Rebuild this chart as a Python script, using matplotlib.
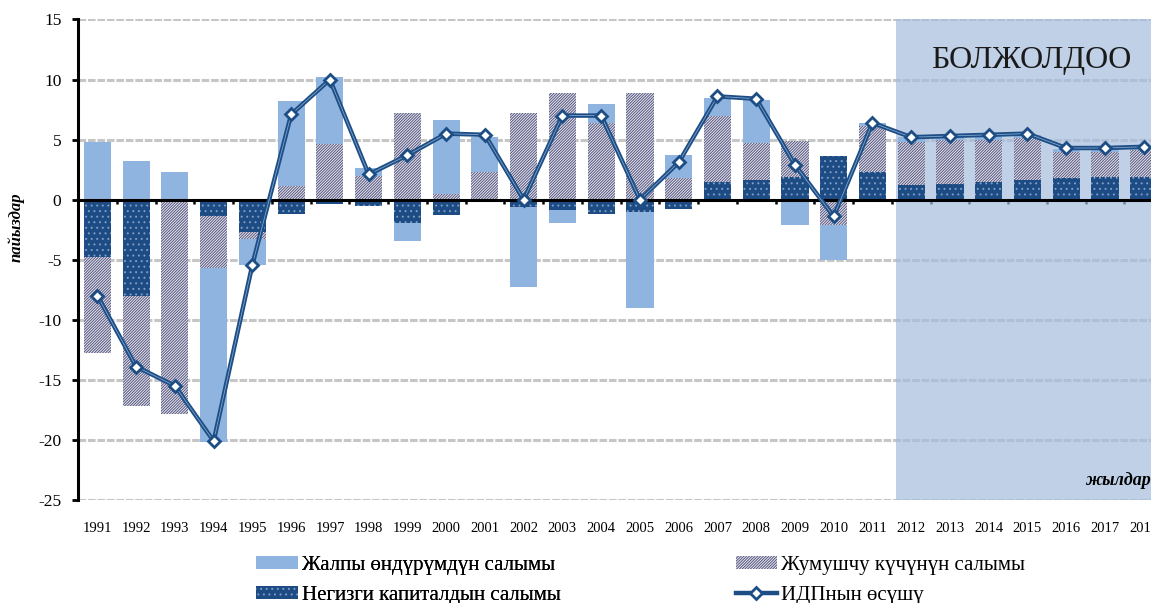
import matplotlib.pyplot as plt
import numpy as np
from matplotlib.patches import Patch
from matplotlib.lines import Line2D

plt.rcParams["font.family"] = ["Liberation Serif", "DejaVu Serif"]
plt.rcParams["axes.unicode_minus"] = False
plt.rcParams["hatch.linewidth"] = 0.7

# data (percentage points), stacked in this order: capital, labour, TFP
years = [str(y) for y in range(1991, 2019)]
capital = [-4.8, -8.0, -0.1, -1.4, -2.7, -1.2, -0.4, -0.5, -1.9, -1.3,
           -0.1, -0.6, -0.9, -1.2, -1.0, -0.8, 1.5, 1.6, 1.9, 3.6,
           2.3, 1.2, 1.3, 1.5, 1.6, 1.8, 1.9, 1.9]
labor = [-8.0, -9.2, -17.7, -4.3, -0.6, 1.1, 4.6, 2.0, 7.2, 0.5,
         2.3, 7.2, 8.9, 6.4, 8.9, 1.8, 5.5, 3.1, 3.0, -2.1,
         3.8, 3.6, 3.7, 3.5, 3.5, 2.2, 2.1, 2.2]
tfp = [4.8, 3.2, 2.3, -14.5, -2.1, 7.1, 5.6, 0.6, -1.5, 6.1,
       2.9, -6.7, -1.0, 1.6, -8.0, 1.9, 1.5, 3.6, -2.1, -2.9,
       0.3, 0.4, 0.3, 0.3, 0.3, 0.2, 0.2, 0.2]
gdp = [-8.0, -13.9, -15.5, -20.1, -5.4, 7.1, 10.0, 2.1, 3.7, 5.5,
       5.4, 0.0, 7.0, 7.0, 0.0, 3.1, 8.6, 8.4, 2.9, -1.4,
       6.4, 5.2, 5.3, 5.4, 5.5, 4.3, 4.3, 4.4]
forecast_start = "2012"

labels = ["Жалпы өндүрүмдүн салымы", "Жумушчу күчүнүн салымы",
          "Негизги капиталдын салымы", "ИДПнын өсүшү"]

c_tfp = "#8fb4df"
c_cap = "#1d4c84"
c_cap_dot = "#7d9cc6"
c_lab_face = "#e8e8f0"
c_lab_edge = "#55557f"
c_line = "#1c4d84"
lab_hatch = "/" * 12
cap_hatch = "..."

fig = plt.figure(figsize=(11.51, 6.03), dpi=100)
# plot area runs past the right edge of the picture, as in the original
ax = fig.add_axes([0.0678, 0.1708, 0.9427, 0.7969])

x = np.arange(len(years))
w = 0.7

# stack positives up and negatives down separately (like Excel)
pos = np.zeros(len(years))
neg = np.zeros(len(years))
styles = [
    (capital, dict(color=c_cap, edgecolor=c_cap_dot, hatch=cap_hatch, linewidth=0)),
    (labor, dict(color=c_lab_face, edgecolor=c_lab_edge, hatch=lab_hatch, linewidth=0)),
    (tfp, dict(color=c_tfp, linewidth=0)),
]
for vals, kw in styles:
    vals = np.array(vals)
    bottom = np.where(vals >= 0, pos, neg)
    ax.bar(x, vals, w, bottom=bottom, zorder=2, **kw)
    pos = pos + np.clip(vals, 0, None)
    neg = neg + np.clip(vals, None, 0)

# forecast shading
i0 = years.index(forecast_start)
ax.axvspan(i0 - 0.38, len(years) - 0.5, color="#a4bdde", alpha=0.7,
           zorder=1, linewidth=0)

# GDP growth line (double line look)
ax.plot(x, gdp, color=c_line, lw=3.2, zorder=5, solid_joinstyle="miter")
ax.plot(x, gdp, color="#7fa3cf", lw=0.6, zorder=5.5)
ax.plot(x, gdp, ls="none", marker="D", ms=6.5, mfc="white", mec=c_line,
        mew=2, zorder=6)

ax.set_xlim(-0.5, len(years) - 0.5)
ax.set_ylim(-25, 15)
ax.set_yticks(np.arange(-25, 16, 5))
ax.yaxis.grid(True, color="#c6c6c6", lw=2.2, ls=(0, (2.5, 0.6)))
ax.set_axisbelow(True)

for s in ["top", "right"]:
    ax.spines[s].set_visible(False)
ax.spines["left"].set_linewidth(2.2)
ax.spines["bottom"].set_position(("data", 0))
ax.spines["bottom"].set_linewidth(2.2)
ax.spines["bottom"].set_zorder(4)
ax.set_xticks(x)
ax.set_xticks(np.arange(-0.5, len(years), 1), minor=True)
ax.tick_params(axis="x", which="major", length=0, labelbottom=False)
ax.tick_params(axis="x", which="minor", length=3, width=1.8, direction="out")
ax.tick_params(axis="y", length=4, width=2, pad=8, labelsize=12.5)

sec = ax.secondary_xaxis("bottom")
sec.set_xticks(x, years)
sec.tick_params(length=0, pad=16, labelsize=10.5)
sec.spines["bottom"].set_visible(False)

ax.text(24.1, 11.6, "БОЛЖОЛДОО", fontsize=23, ha="center", va="center",
        color="#1a1a1a", zorder=7)
ax.text(27.17, -23.4, "жылдар", fontsize=13, ha="right", va="center",
        weight="bold", style="italic", zorder=7)
fig.text(0.014, 1 - 227 / 603, "пайыздар", rotation=90, ha="center",
         va="center", fontsize=12, weight="bold", style="italic")

h_tfp = Patch(facecolor=c_tfp, edgecolor="none")
h_lab = Patch(facecolor=c_lab_face, edgecolor=c_lab_edge, hatch=lab_hatch, lw=0)
h_cap = Patch(facecolor=c_cap, edgecolor=c_cap_dot, hatch=cap_hatch, lw=0)
h_gdp = Line2D([], [], color=c_line, lw=3.2, marker="D", ms=6.5,
               mfc="white", mec=c_line, mew=2)

leg_kw = dict(frameon=False, fontsize=15, handlelength=2.0, handleheight=0.6,
              handletextpad=0.2, labelspacing=0.5, borderpad=0,
              loc="upper left")
leg1 = fig.legend([h_tfp, h_cap], [labels[0], labels[2]],
                  bbox_to_anchor=(0.2137, 0.095), **leg_kw)
fig.add_artist(leg1)
fig.legend([h_lab, h_gdp], [labels[1], labels[3]],
           bbox_to_anchor=(0.630, 0.095), **leg_kw)

fig.savefig("out.png", dpi=100)
